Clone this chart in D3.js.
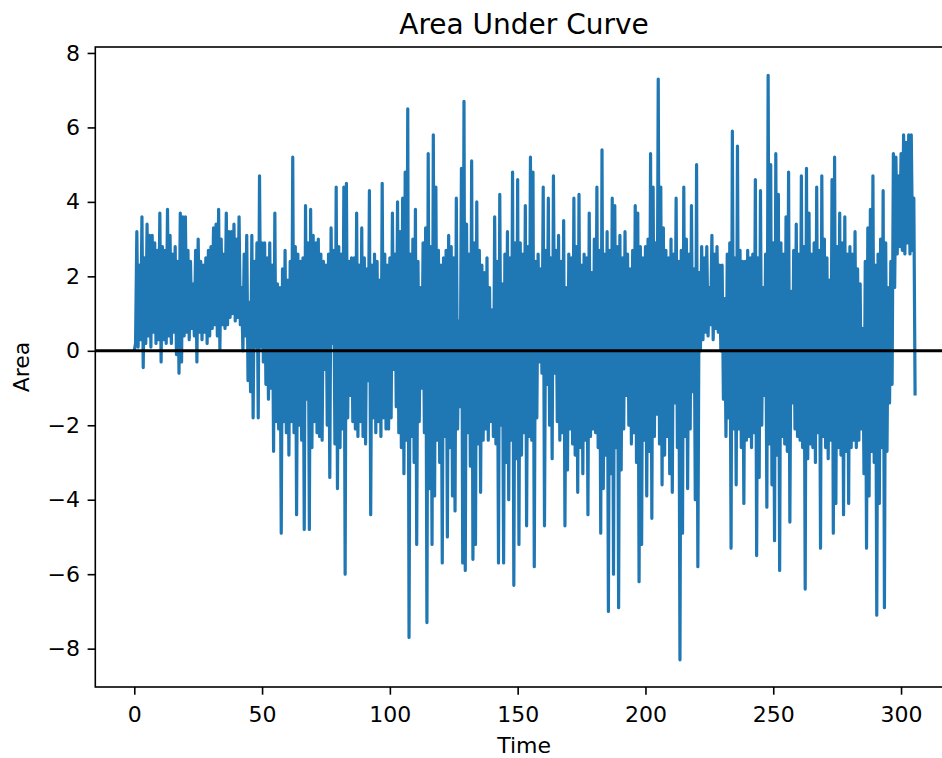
<!DOCTYPE html>
<html>
<head>
<meta charset="utf-8">
<script src="https://cdn.jsdelivr.net/npm/d3@7"></script>
<style>
body { margin: 0; background: #fff; }
svg { display: block; font-family: "DejaVu Sans", sans-serif; }
</style>
</head>
<body>
<svg id="chart" width="942" height="758"></svg>
<script>

// peaks of the trace, one per time unit (t = 0, 1, 2, ...)
var highs = [
    0.0, 3.2, 2.3, 3.6, 2.5, 3.4, 3.1, 3.1, 2.9, 2.7,
    3.7, 2.8, 2.7, 3.8, 3.1, 2.6, 2.8, 2.4, 3.7, 3.6,
    3.6, 2.7, 2.4, 1.8, 2.7, 3.0, 2.4, 2.3, 2.5, 2.7,
    2.8, 3.3, 3.4, 3.8, 3.0, 2.6, 3.7, 3.2, 3.2, 3.4,
    3.0, 3.6, 1.7, 2.6, 3.1, 1.3, 3.1, 2.4, 2.9, 4.7,
    2.9, 2.9, 2.5, 2.9, 2.3, 3.7, 1.8, 1.7, 2.2, 2.7,
    1.9, 2.4, 5.2, 2.8, 2.6, 2.4, 2.5, 3.9, 2.9, 3.8,
    3.1, 2.9, 3.0, 2.6, 2.4, 2.3, 2.6, 3.3, 2.7, 4.4,
    2.8, 2.6, 4.4, 4.5, 2.4, 2.5, 2.5, 3.7, 2.3, 3.3,
    2.5, 2.2, 4.3, 2.3, 2.6, 2.4, 1.9, 4.5, 2.6, 2.3,
    2.5, 3.7, 2.6, 4.0, 3.2, 4.1, 4.8, 6.5, 2.6, 3.0,
    3.8, 2.4, 1.7, 2.9, 3.3, 5.3, 2.8, 5.8, 4.4, 2.7,
    2.3, 2.5, 2.7, 3.1, 2.8, 2.5, 4.1, 0.8, 4.9, 6.7,
    3.4, 2.6, 5.1, 2.9, 4.0, 2.7, 2.3, 2.1, 2.5, 1.7,
    1.1, 3.6, 2.4, 4.2, 1.8, 2.6, 3.2, 2.5, 4.8, 2.9,
    4.6, 2.9, 2.6, 3.9, 2.8, 5.2, 4.8, 2.4, 2.6, 2.2,
    4.4, 2.7, 4.1, 2.5, 4.7, 2.7, 3.1, 2.4, 3.5, 1.7,
    2.6, 2.5, 4.1, 2.8, 4.2, 2.3, 2.6, 2.5, 3.7, 2.1,
    3.0, 4.4, 2.7, 5.4, 2.6, 3.2, 2.7, 4.1, 3.9, 2.8,
    3.1, 2.5, 3.2, 2.6, 2.2, 2.7, 3.9, 3.7, 2.8, 2.5,
    2.8, 3.0, 5.3, 4.4, 2.9, 7.3, 4.4, 3.3, 2.7, 2.5,
    3.0, 2.6, 4.1, 2.4, 2.7, 4.4, 3.0, 2.6, 3.9, 2.2,
    5.0, 2.1, 2.8, 2.5, 2.8, 1.7, 3.1, 2.6, 2.8, 2.3,
    2.3, 1.4, 2.6, 2.9, 5.9, 2.5, 5.5, 2.7, 2.4, 2.4,
    2.7, 2.5, 2.6, 4.6, 2.5, 4.3, 1.7, 2.6, 7.4, 5.0,
    2.9, 5.3, 4.2, 2.9, 2.6, 3.6, 4.8, 1.6, 2.7, 3.4,
    2.6, 4.7, 2.8, 4.9, 3.7, 2.6, 2.9, 4.4, 2.7, 4.7,
    3.0, 2.5, 1.9, 4.6, 5.2, 2.8, 3.7, 2.9, 3.6, 2.6,
    2.8, 2.6, 3.2, 2.2, 1.8, 0.6, 2.4, 3.3, 3.8, 4.7,
    2.3, 2.6, 3.0, 4.3, 2.9, 1.7, 2.4, 5.3, 5.2, 4.7,
    5.3, 5.8, 5.6, 5.8, 5.8, 4.1
];

// troughs, half a time unit later (t = 0.5, 1.5, ...)
var lows = [
    0.2, 0.1, 0.3, -0.45, 0.2, 0.4, 0.1, 0.5, 0.2, 0.3,
    -0.3, 0.3, 0.2, 0.4, 0.2, 0.5, -0.1, -0.6, -0.3, 0.4,
    0.5, 0.3, 0.6, 0.4, -0.3, 0.5, 0.3, 0.5, 0.2, 0.4,
    0.6, 0.7, 0.4, 0.05, 0.7, 0.6, 0.7, 0.9, 1.0, 0.8,
    0.9, 0.7, 0.0, 0.4, -0.8, -1.1, -1.8, 0.1, -1.8, 0.1,
    -0.3, -0.9, -1.3, -1.0, -2.7, -1.9, -2.1, -4.9, -1.9, -2.2,
    -2.8, -1.9, -2.2, -4.4, -2.0, -2.4, -4.8, -1.3, -4.8, -2.6,
    -1.9, -2.2, -2.3, -2.4, -0.5, -2.0, -3.4, 0.2, -2.5, -3.7,
    -2.6, -2.1, -6.0, -1.8, -1.2, -1.9, -2.1, -2.3, -1.9, -2.3,
    -2.5, -0.8, -4.4, -1.8, -2.2, -1.9, -2.3, -1.8, -2.1, -2.1,
    -1.8, -0.5, -1.5, -2.2, -2.6, -3.3, -2.4, -7.7, -2.3, -3.0,
    -5.2, -1.9, -1.0, -2.2, -7.3, -3.7, -5.2, -3.9, -2.4, -3.0,
    -5.7, -2.3, -5.0, -2.6, -3.9, -4.3, -2.1, -1.5, -5.7, -5.9,
    -2.2, -3.1, -5.6, -5.2, -2.5, -3.8, -2.4, -2.1, -2.4, -1.9,
    -2.3, -2.5, -5.7, -2.0, -5.7, -3.0, -4.0, -2.4, -6.3, -2.9,
    -5.2, -2.8, -2.2, -4.7, -2.3, -2.4, -5.8, -1.8, -0.3, -0.6,
    -4.7, -0.9, -2.0, -2.9, -0.6, -1.9, -2.4, -2.2, -4.7, -3.2,
    -2.1, -2.5, -2.8, -3.8, -2.6, -3.3, -2.4, -4.4, -2.3, -2.1,
    -2.2, -2.6, -4.9, -3.7, -2.8, -7.0, -3.3, -6.0, -2.6, -6.9,
    -3.2, -2.1, -1.2, -2.0, -2.5, -2.2, -3.0, -6.2, -5.2, -2.4,
    -3.9, -2.7, -4.5, -2.3, -1.7, -2.5, -3.6, -2.8, -2.3, -3.3,
    -3.8, -1.4, -2.6, -8.3, -4.9, -2.3, -3.7, -2.1, -1.1, -4.0,
    -5.8, 0.0, 0.3, 0.5, 0.4, 0.7, 0.3, 0.6, 0.5, 0.0,
    -1.3, -2.3, -1.8, -5.3, -2.1, -3.6, -2.1, -2.6, -4.1, -2.4,
    -2.3, -2.6, -2.2, -5.5, -3.4, -2.0, -1.2, -4.2, -2.5, -3.6,
    -5.1, -2.8, -5.9, -2.3, -2.5, -2.7, -4.6, -1.4, -2.1, -2.3,
    -2.4, -2.6, -6.4, -2.9, -2.5, -2.6, -3.0, -2.2, -5.3, -2.3,
    -2.6, -2.9, -2.4, -4.9, -4.1, -2.6, -2.8, -4.4, -2.7, -4.1,
    -2.6, -2.4, -2.6, -2.4, -2.1, -3.3, -5.3, -3.9, -2.7, -3.0,
    -7.1, -4.1, -2.6, -6.9, -2.7, -1.4, -0.9, 1.7, 2.6, 2.8,
    2.7, 2.6, 2.9, 2.6, 2.7, -1.2
];

var xTicks = [0, 50, 100, 150, 200, 250, 300];
var yTicks = [-8, -6, -4, -2, 0, 2, 4, 6, 8];

draw_chart();

function draw_chart() {
    var svg = d3.select('#chart');

    // axes box in pixels (right spine falls just outside the picture)
    var left = 95.3, right = 952.8, top = 47, bottom = 687;

    // interleave peaks and troughs into one trace
    var data = [];
    highs.forEach(function(h, i) {
        data.push([i, h]);
        data.push([i + 0.5, lows[i]]);
    });

    var xScale = d3.scaleLinear()
        .domain([-15.25, 320.25])
        .range([left, right]);

    var yScale = d3.scaleLinear()
        .domain([-9.03, 8.16])
        .range([bottom, top]);

    svg.append('defs')
        .append('clipPath')
        .attr('id', 'plot-clip')
        .append('rect')
        .attr('x', left)
        .attr('y', top)
        .attr('width', right - left)
        .attr('height', bottom - top);

    var line = d3.line()
        .x(function(d){ return xScale(d[0]); })
        .y(function(d){ return yScale(d[1]); });

    svg.append('path')
        .datum(data)
        .attr('clip-path', 'url(#plot-clip)')
        .attr('d', line)
        .attr('fill', 'none')
        .attr('stroke', '#1f77b4')
        .attr('stroke-width', 3.2)
        .attr('stroke-linejoin', 'round');

    // horizontal line at zero
    svg.append('line')
        .attr('x1', left)
        .attr('x2', right)
        .attr('y1', yScale(0))
        .attr('y2', yScale(0))
        .attr('stroke', '#000')
        .attr('stroke-width', 3);

    var xAxis = d3.axisBottom(xScale)
        .tickValues(xTicks)
        .tickSizeInner(7.7)
        .tickSizeOuter(0)
        .tickPadding(12);

    var yAxis = d3.axisLeft(yScale)
        .tickValues(yTicks)
        .tickSizeInner(7.7)
        .tickSizeOuter(0)
        .tickPadding(7.7);

    var gx = svg.append('g')
        .attr('transform', 'translate(0,' + bottom + ')')
        .call(xAxis);

    var gy = svg.append('g')
        .attr('transform', 'translate(' + left + ',0)')
        .call(yAxis);

    [gx, gy].forEach(function(g) {
        g.select('.domain').remove();
        g.selectAll('.tick line')
            .attr('stroke', '#000')
            .attr('stroke-width', 1.6);
        g.selectAll('.tick text')
            .attr('fill', '#000')
            .style('font-family', '"DejaVu Sans", sans-serif')
            .style('font-size', '22px');
    });

    // frame
    svg.append('rect')
        .attr('x', left)
        .attr('y', top)
        .attr('width', right - left)
        .attr('height', bottom - top)
        .attr('fill', 'none')
        .attr('stroke', '#000')
        .attr('stroke-width', 1.6);

    svg.append('text')
        .attr('x', (left + right) / 2)
        .attr('y', 33.5)
        .attr('text-anchor', 'middle')
        .style('font-size', '28px')
        .text('Area Under Curve');

    svg.append('text')
        .attr('x', (left + right) / 2)
        .attr('y', 753)
        .attr('text-anchor', 'middle')
        .style('font-size', '22px')
        .text('Time');

    svg.append('text')
        .attr('transform', 'translate(29,' + (top + bottom) / 2 + ') rotate(-90)')
        .attr('text-anchor', 'middle')
        .style('font-size', '22px')
        .text('Area');
}
</script>
</body>
</html>
